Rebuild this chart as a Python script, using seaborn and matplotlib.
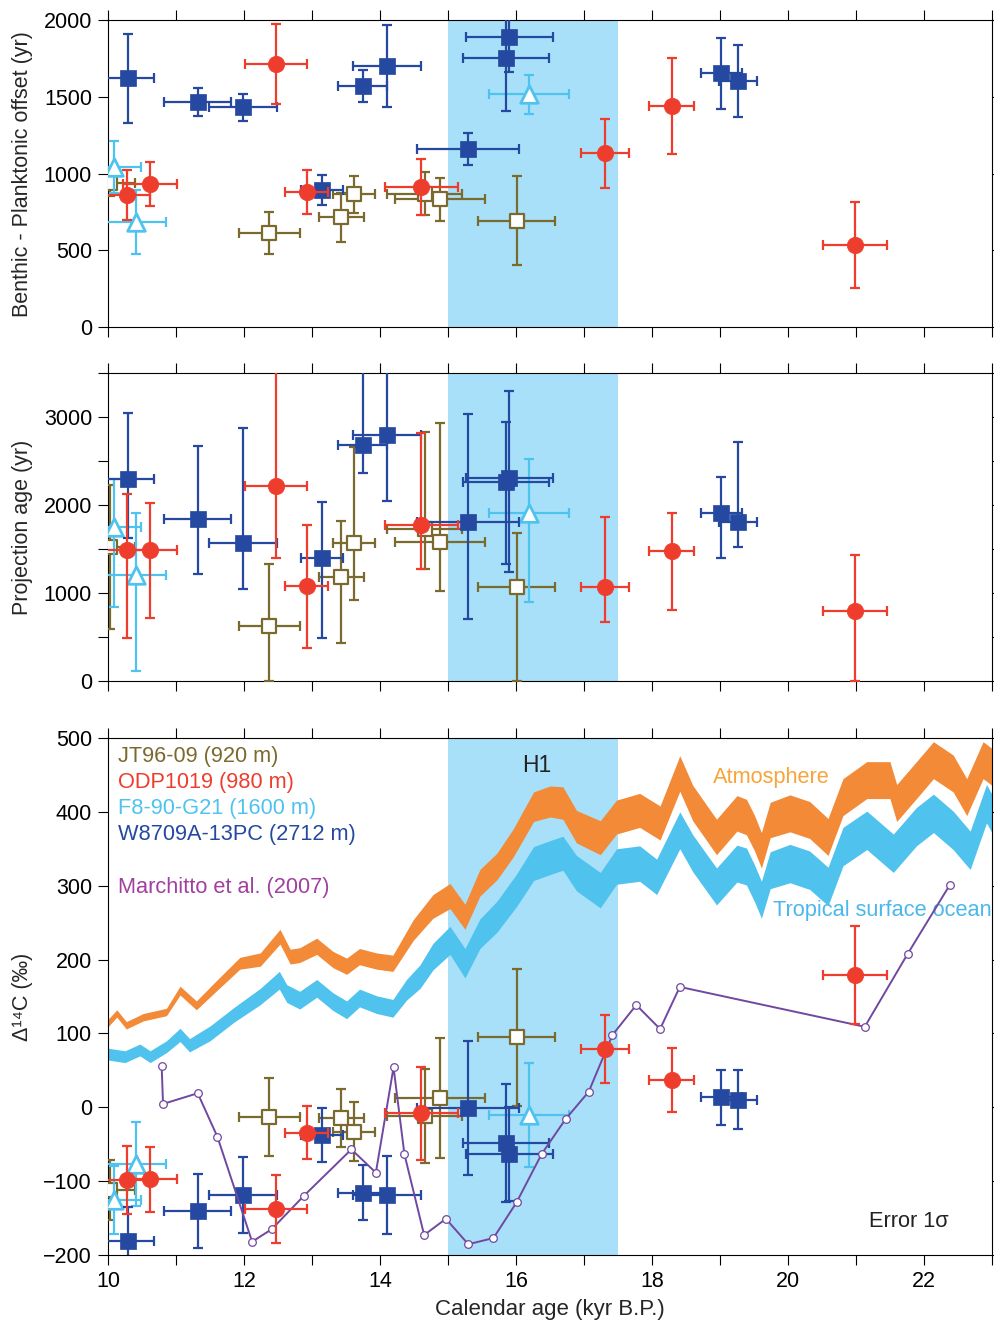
import numpy as np
import matplotlib
matplotlib.use("Agg")
import matplotlib.pyplot as plt
from matplotlib.ticker import MultipleLocator
import seaborn as sns

# ---- JT96-09 (920 m) ----
jt_age = [10.03, 12.37, 13.43, 13.62, 14.66, 14.88, 16.01]
jt_age_err = [0.37, 0.45, 0.33, 0.31, 0.55, 0.66, 0.57]
jt_offset = [936, 614, 714, 864, 870, 832, 693]
jt_offset_err = [80, 136, 160, 120, 140, 138, 288]
jt_proj = [1527, 625, 1178, 1572, 1724, 1583, 1064]
jt_proj_lo = [587, 0, 428, 920, 1269, 1023, 0]
jt_proj_hi = [2227, 1326, 1822, 2663, 2833, 2935, 1678]
jt_d14c = [-112, -12.7, -14.9, -33, -11.5, 13, 94.8]
jt_d14c_err = [41, 53, 39, 40, 64, 81, 93]

# ---- ODP1019 (980 m) ----
odp_age = [10.28, 10.62, 12.47, 12.92, 14.61, 17.31, 18.29, 20.99]
odp_age_err = [0.34, 0.40, 0.45, 0.31, 0.54, 0.36, 0.33, 0.47]
odp_offset = [860, 930, 1713, 882, 914, 1131, 1440, 534]
odp_offset_err = [160, 143, 262, 143, 182, 226, 315, 282]
odp_proj = [1489, 1489, 2220, 1083, 1773, 1064, 1477, 799]
odp_proj_lo = [492, 712, 1394, 372, 1269, 674, 807, 0]
odp_proj_hi = [2121, 2026, 3600, 1773, 2814, 1860, 1905, 1432]
odp_d14c = [-98.4, -97.5, -137.7, -34.4, -8.3, 79, 37, 179]
odp_d14c_err = [46, 44, 46, 36, 63, 46, 43, 66]

# ---- F8-90-G21 (1600 m) ----
f8_age = [10.09, 10.41, 16.19]
f8_age_err = [0.40, 0.45, 0.59]
f8_offset = [1044, 686, 1516]
f8_offset_err = [168, 207, 128]
f8_proj = [1754, 1205, 1905]
f8_proj_lo = [837, 117, 894]
f8_proj_hi = [2295, 1913, 2519]
f8_d14c = [-125.5, -77, -10.4]
f8_d14c_err = [46, 57, 71]

# ---- W8709A-13PC (2712 m) ----
w87_age = [10.30, 11.32, 11.98, 13.15, 13.75, 14.10, 15.30, 15.90, 15.85, 19.02, 19.26]
w87_age_err = [0.37, 0.49, 0.50, 0.31, 0.36, 0.50, 0.75, 0.64, 0.63, 0.30, 0.28]
w87_offset = [1620, 1468, 1431, 892, 1570, 1702, 1160, 1890, 1755, 1653, 1603]
w87_offset_err = [290, 90, 87, 96, 103, 266, 102, 230, 350, 233, 233]
w87_proj = [2292, 1837, 1572, 1394, 2682, 2795, 1810, 2303, 2265, 1913, 1803]
w87_proj_lo = [1622, 1216, 1042, 492, 2360, 2049, 705, 1242, 1326, 1394, 1526]
w87_proj_hi = [3049, 2670, 2871, 2038, 3600, 3600, 3030, 3299, 2947, 2322, 2720]
w87_d14c = [-180.6, -140, -118.7, -37.5, -115.6, -118.7, -1.3, -63, -48, 13.5, 10]
w87_d14c_err = [45, 50, 52, 37, 37, 53, 91, 64, 80, 37, 40]

# ---- Marchitto et al. (2007) ----
mar_age = [10.79, 10.81, 11.32, 11.61, 12.12, 12.41, 12.88, 13.58, 13.94, 14.20, 14.36,
           14.65, 14.97, 15.30, 15.67, 16.01, 16.38, 16.73, 17.07, 17.42, 17.77, 18.12,
           18.41, 21.13, 21.76, 22.38]
mar_d14c = [56, 4.5, 19, -40, -182, -165, -120, -57, -88.5, 54, -63.6,
            -173, -151, -185.5, -177, -128.6, -63, -16, 21, 98, 138.5, 106,
            163, 109, 207.6, 301]

# ---- Atmosphere band ----
atm_age = [10.0, 10.13, 10.27, 10.52, 10.86, 11.06, 11.30, 11.60, 11.94, 12.24, 12.53,
           12.68, 12.82, 13.07, 13.31, 13.51, 13.70, 13.95, 14.19, 14.49, 14.78, 15.03,
           15.25, 15.47, 15.72, 15.96, 16.26, 16.50, 16.69, 16.89, 17.24, 17.48, 17.82,
           18.12, 18.41, 18.60, 18.95, 19.25, 19.39, 19.51, 19.61, 19.74, 20.03, 20.32,
           20.59, 20.81, 21.16, 21.50, 21.60, 21.89, 22.14, 22.43, 22.63, 22.87, 23.0]
atm_mid = [114, 127, 111, 122, 129, 158, 138, 165, 195, 200, 231,
           204, 206, 218, 200, 191, 204, 198, 195, 240, 272, 286,
           258, 304, 326, 358, 407, 414, 412, 380, 365, 393, 402,
           385, 452, 412, 366, 398, 393, 371, 348, 389, 398, 389,
           366, 420, 443, 443, 412, 443, 470, 452, 420, 470, 461]
atm_half = [5, 5, 5, 5, 5, 6, 6, 7, 8, 9, 10,
            10, 10, 11, 11, 11, 11, 11, 11, 14, 16, 17,
            17, 18, 18, 19, 20, 21, 22, 22, 23, 23, 23,
            23, 24, 24, 24, 24, 24, 24, 24, 24, 25, 25,
            25, 25, 25, 25, 25, 25, 25, 25, 25, 25, 25]

# ---- Tropical surface ocean band ----
oce_age = [10.0, 10.25, 10.47, 10.62, 10.86, 11.06, 11.20, 11.50, 11.85, 12.24, 12.52,
           12.63, 12.82, 13.07, 13.31, 13.51, 13.70, 13.95, 14.19, 14.39, 14.59, 14.78,
           15.03, 15.25, 15.47, 15.72, 16.01, 16.26, 16.50, 16.69, 16.89, 17.24, 17.48,
           17.82, 18.07, 18.41, 18.60, 18.95, 19.25, 19.39, 19.51, 19.61, 19.74, 20.03,
           20.32, 20.59, 20.81, 21.16, 21.55, 21.89, 22.14, 22.43, 22.68, 22.92, 23.0]
oce_mid = [72, 68.5, 77.6, 68.5, 82, 98, 84, 100, 125, 150, 172,
           154, 145, 161, 143, 132, 148, 139, 134, 159, 177, 204,
           226, 195, 235, 258, 294, 330, 338, 344, 317, 294, 326,
           330, 312, 375, 344, 299, 330, 326, 303, 281, 321, 330,
           321, 299, 353, 375, 344, 380, 398, 375, 348, 411, 398]
oce_half = [8, 8, 8, 8, 8, 9, 9, 10, 10, 11, 12,
            12, 12, 12, 12, 12, 12, 12, 12, 14, 16, 18,
            19, 20, 20, 21, 22, 23, 23, 23, 24, 24, 24,
            24, 24, 25, 25, 25, 25, 25, 25, 25, 25, 26,
            26, 26, 26, 26, 26, 26, 26, 26, 26, 26, 26]

C_JT = "#7a6a2e"
C_ODP = "#ee3d2c"
C_F8 = "#4fc3ef"
C_W87 = "#2548a0"
C_MAR = "#7048a0"
C_H1 = "#a8e0f9"
C_ATM = "#f28a38"
C_OCE = "#4fc2ee"

sns.set_theme(style="ticks")
plt.rcParams["font.family"] = ["Liberation Sans", "DejaVu Sans"]
plt.rcParams["axes.linewidth"] = 0.8

fig = plt.figure(figsize=(9.95, 13.3), dpi=100)
ax1 = fig.add_axes([0.1085, 0.7541, 0.8884, 0.2308])
ax2 = fig.add_axes([0.1085, 0.4880, 0.8884, 0.2316])
ax3 = fig.add_axes([0.1085, 0.0564, 0.8884, 0.3887])
axes = [ax1, ax2, ax3]

for ax in axes:
    ax.axvspan(15.0, 17.5, color=C_H1, lw=0, zorder=0)
    ax.set_xlim(10, 23)
    ax.xaxis.set_major_locator(MultipleLocator(2))
    ax.xaxis.set_minor_locator(MultipleLocator(1))
    ax.tick_params(which="both", direction="out", top=True, right=True,
                   length=7.5, width=0.8, labelsize=15.5, pad=4, colors="black")
    for sp in ax.spines.values():
        sp.set_color("black")

ax1.set_ylim(0, 2000)
ax1.yaxis.set_major_locator(MultipleLocator(500))
ax2.set_ylim(0, 3500)
ax2.yaxis.set_major_locator(MultipleLocator(1000))
ax2.yaxis.set_minor_locator(MultipleLocator(500))
ax3.set_ylim(-200, 500)
ax3.yaxis.set_major_locator(MultipleLocator(100))
ax1.tick_params(labelbottom=False)
ax2.tick_params(labelbottom=False)

# radiocarbon bands
ax3.fill_between(atm_age, np.subtract(atm_mid, atm_half), np.add(atm_mid, atm_half),
                 color=C_ATM, lw=0, zorder=1)
ax3.fill_between(oce_age, np.subtract(oce_mid, oce_half), np.add(oce_mid, oce_half),
                 color=C_OCE, lw=0, zorder=1)


def draw_site(age, age_err, panels, color, marker, face, size, lw, z):
    for ax, (val, yerr) in zip(axes, panels):
        ax.errorbar(age, val, xerr=age_err, yerr=yerr, fmt="none", ecolor=color,
                    elinewidth=1.6, capsize=3.7, capthick=1.6, zorder=z)
        sns.scatterplot(x=age, y=val, ax=ax, marker=marker, s=size, color=face,
                        edgecolor=color, linewidth=lw, zorder=z + 0.05, legend=False)


def asym(val, lo, hi):
    val = np.asarray(val, float)
    return np.vstack([val - np.asarray(lo), np.asarray(hi) - val])


draw_site(jt_age, jt_age_err,
          [(jt_offset, jt_offset_err), (jt_proj, asym(jt_proj, jt_proj_lo, jt_proj_hi)),
           (jt_d14c, jt_d14c_err)],
          C_JT, "s", "white", 110, 1.6, 3)
draw_site(f8_age, f8_age_err,
          [(f8_offset, f8_offset_err), (f8_proj, asym(f8_proj, f8_proj_lo, f8_proj_hi)),
           (f8_d14c, f8_d14c_err)],
          C_F8, "^", "white", 160, 2.0, 3.2)
draw_site(w87_age, w87_age_err,
          [(w87_offset, w87_offset_err), (w87_proj, asym(w87_proj, w87_proj_lo, w87_proj_hi)),
           (w87_d14c, w87_d14c_err)],
          C_W87, "s", C_W87, 140, 0.5, 3.4)

sns.lineplot(x=mar_age, y=mar_d14c, ax=ax3, sort=False, estimator=None, color=C_MAR,
             lw=1.4, marker="o", markersize=5.5, markerfacecolor="white",
             markeredgecolor=C_MAR, markeredgewidth=0.9, zorder=3.6)

draw_site(odp_age, odp_age_err,
          [(odp_offset, odp_offset_err), (odp_proj, asym(odp_proj, odp_proj_lo, odp_proj_hi)),
           (odp_d14c, odp_d14c_err)],
          C_ODP, "o", C_ODP, 140, 0.5, 3.8)

# labels
ax1.set_ylabel("Benthic - Planktonic offset (yr)", fontsize=15.5)
ax2.set_ylabel("Projection age (yr)", fontsize=15.5)
ax3.set_ylabel("\u0394\u00b9\u2074C (\u2030)", fontsize=15.5)
for ax in axes:
    ax.yaxis.set_label_coords(-0.085, 0.5)
ax3.set_xlabel("Calendar age (kyr B.P.)", fontsize=16, labelpad=5)

# annotations
fs = 15.7
ax3.text(10.15, 475, "JT96-09 (920 m)", color=C_JT, fontsize=fs, va="center")
ax3.text(10.15, 440, "ODP1019 (980 m)", color=C_ODP, fontsize=fs, va="center")
ax3.text(10.15, 405, "F8-90-G21 (1600 m)", color=C_F8, fontsize=fs, va="center")
ax3.text(10.15, 369, "W8709A-13PC (2712 m)", color=C_W87, fontsize=fs, va="center")
ax3.text(10.15, 297, "Marchitto et al. (2007)", color="#a040a0", fontsize=fs, va="center")
ax3.text(16.31, 463, "H1", color="#222222", fontsize=16.5, ha="center", va="center")
ax3.text(19.75, 446, "Atmosphere", color="#f7a43b", fontsize=fs, ha="center", va="center")
ax3.text(22.99, 267, "Tropical surface ocean", color="#4ab8ec", fontsize=fs,
         ha="right", va="center", zorder=2)
ax3.text(21.78, -154, "Error 1\u03c3", color="#222222", fontsize=fs, ha="center", va="center")

fig.savefig("out.png", dpi=100)
